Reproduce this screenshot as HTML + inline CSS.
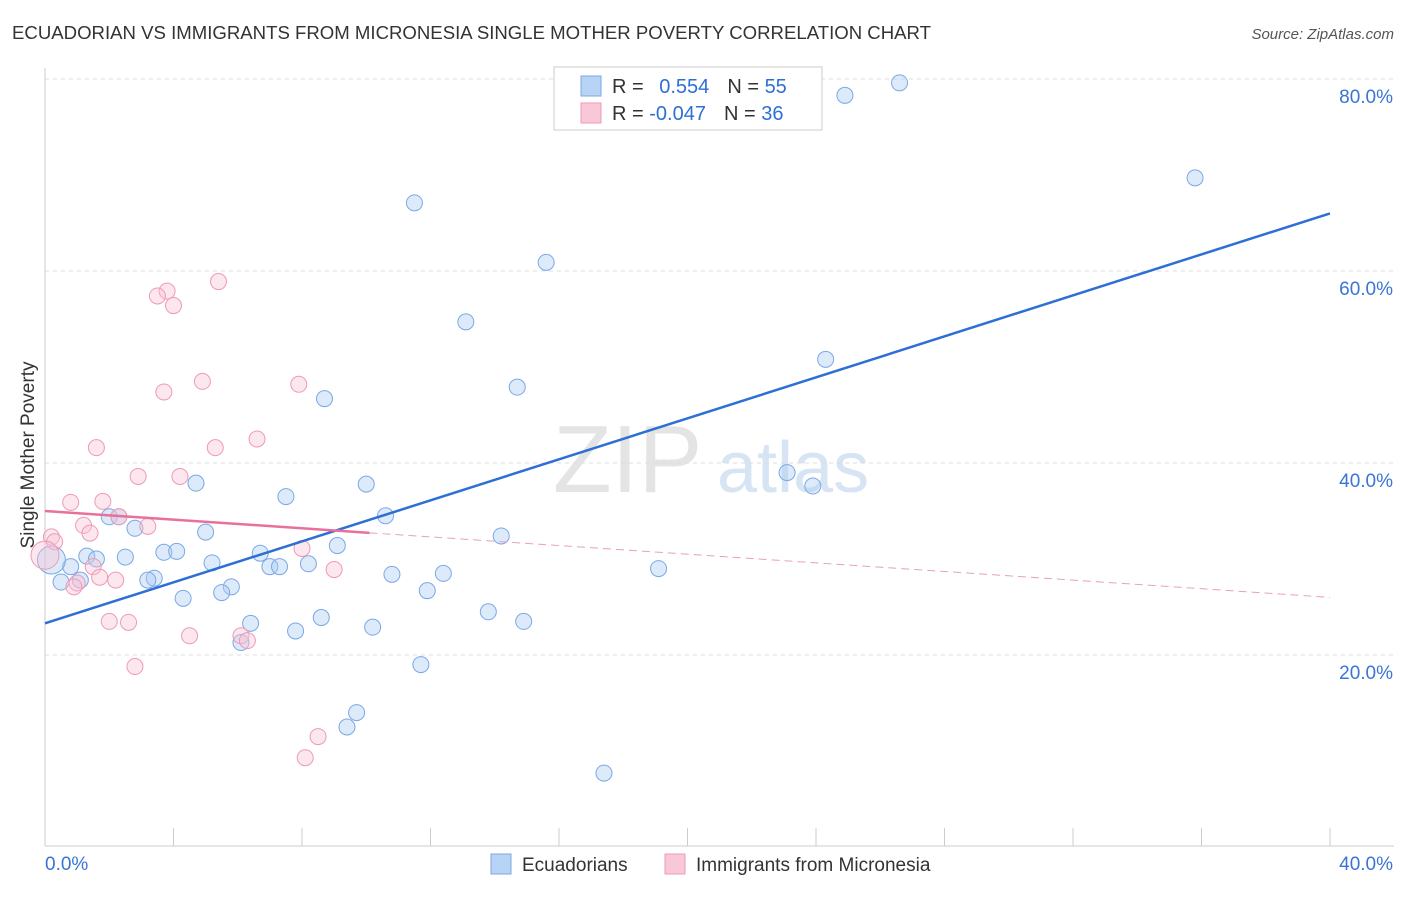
<!DOCTYPE html>
<html><head><meta charset="utf-8"><style>
body{margin:0;background:#fff;font-family:"Liberation Sans",sans-serif;}
svg text{font-family:"Liberation Sans",sans-serif;}
</style></head><body>
<svg id="chart" width="1406" height="892">
<text x="12" y="39" font-size="18" fill="#333" textLength="919" lengthAdjust="spacingAndGlyphs">ECUADORIAN VS IMMIGRANTS FROM MICRONESIA SINGLE MOTHER POVERTY CORRELATION CHART</text>
<text x="1394" y="39" font-size="15" fill="#555" text-anchor="end" font-style="italic">Source: ZipAtlas.com</text>
<text x="34" y="455" font-size="19" fill="#333" text-anchor="middle" transform="rotate(-90 34 455)">Single Mother Poverty</text>
<g><text x="553" y="492" font-size="96" font-family="Liberation Serif" fill="#e4e4e4">ZIP</text><text x="717" y="492" font-size="72" fill="#d6e4f4">atlas</text></g>
<g id="grid"></g><g id="marks"></g>
<g>
<rect x="554" y="67" width="268" height="63" fill="#fff" stroke="#ccc"/>
<rect x="581" y="76" width="20" height="20" fill="#b8d4f5" stroke="#7aa8e6"/>
<rect x="581" y="103" width="20" height="20" fill="#f9c8d8" stroke="#ee9ab5"/>
<text x="612" y="93" font-size="20" fill="#333">R = <tspan fill="#2e6fd6" dx="10">0.554</tspan><tspan dx="18" fill="#333">N = </tspan><tspan fill="#2e6fd6">55</tspan></text>
<text x="612" y="120" font-size="20" fill="#333">R = <tspan fill="#2e6fd6">-0.047</tspan><tspan dx="18" fill="#333">N = </tspan><tspan fill="#2e6fd6">36</tspan></text>
</g>
<g>
<rect x="491" y="854" width="20" height="20" fill="#b8d4f5" stroke="#7aa8e6"/>
<text x="522" y="871" font-size="19" fill="#333">Ecuadorians</text>
<rect x="665" y="854" width="20" height="20" fill="#f9c8d8" stroke="#ee9ab5"/>
<text x="696" y="871" font-size="19" fill="#333">Immigrants from Micronesia</text>
</g>
</svg>
<script>
const yTicks=[20,40,60,80];
const xTickLabels=["0.0%","40.0%"];
const blueX=[26.6,24.9,35.8,11.5,15.6,13.1,24.3,14.7,8.7,4.7,10.0,23.1,23.9,7.5,10.6,2.0,2.3,2.8,5.0,14.2,9.1,3.7,4.1,1.3,2.5,6.7,1.6,5.2,0.8,7.0,7.3,8.2,19.1,10.8,12.4,3.4,3.2,1.1,0.5,5.8,5.5,11.9,4.3,8.6,13.8,14.9,6.4,10.2,7.8,6.1,11.7,9.7,9.4,17.4,0.2];
const blueY=[79.6,78.3,69.7,67.1,60.9,54.7,50.8,47.9,46.7,37.9,37.8,39.0,37.6,36.5,34.5,34.4,34.4,33.2,32.8,32.4,31.4,30.7,30.8,30.3,30.2,30.6,30.0,29.6,29.2,29.2,29.2,29.5,29.0,28.4,28.5,28.0,27.8,27.8,27.6,27.1,26.5,26.7,25.9,23.9,24.5,23.5,23.3,22.9,22.5,21.3,19.0,14.0,12.5,7.7,29.9];
const pinkX=[3.8,3.5,4.0,5.4,4.9,3.7,7.9,1.6,5.3,6.6,2.9,4.2,0.8,1.8,2.3,3.2,1.2,1.4,0.2,0.3,8.0,1.5,9.0,1.7,2.2,1.0,0.9,2.0,2.6,4.5,6.1,6.3,2.8,8.5,8.1,0];
const pinkY=[57.9,57.4,56.4,58.9,48.5,47.4,48.2,41.6,41.6,42.5,38.6,38.6,35.9,36.0,34.4,33.4,33.5,32.7,32.3,31.8,31.1,29.2,28.9,28.1,27.8,27.5,27.1,23.5,23.4,22.0,22.0,21.5,18.8,11.5,9.3,30.4];
const blueTrend=[23.3,66.0];
const pinkTrend=[35.0,26.0];
const X=v=>45+v/40*1285, Y=v=>847-v*9.6;
const ns="http://www.w3.org/2000/svg";
function mk(p,t,a){const e=document.createElementNS(ns,t);for(const k in a)e.setAttribute(k,a[k]);p.appendChild(e);return e;}
const grid=document.getElementById('grid'),marks=document.getElementById('marks');
mk(grid,'line',{x1:45,y1:68,x2:45,y2:846,stroke:'#ccc'});
mk(grid,'line',{x1:45,y1:846,x2:1394,y2:846,stroke:'#ccc'});
for(let i=0;i<=10;i++){const l=mk(grid,'line',{x1:X(i*4),x2:X(i*4),y1:828,y2:846,stroke:'#ccc'});

}
for(const t of yTicks){const l=mk(grid,'line',{x1:45,x2:1394,y1:Y(t),y2:Y(t),stroke:'#ddd','stroke-dasharray':'4 4'});


const tx=mk(grid,'text',{x:1393,y:Y(t)+24,'font-size':19,fill:'#3a74d6','text-anchor':'end'});tx.textContent=t.toFixed(1)+'%';

}
xTickLabels.forEach((s,i)=>{const tx=mk(grid,'text',{x:i?1393:45,y:870,'font-size':19,fill:'#3a74d6','text-anchor':i?'end':'start'});tx.textContent=s;

});
blueX.forEach((x,i)=>{const c=mk(marks,'circle',{cx:X(x),cy:Y(blueY[i]),r:i==blueX.length-1?14:8,fill:'rgba(170,202,242,0.4)',stroke:'#7aa8e6','stroke-width':1});

});
pinkX.forEach((x,i)=>{const c=mk(marks,'circle',{cx:X(x),cy:Y(pinkY[i]),r:i==pinkX.length-1?14:8,fill:'rgba(248,195,213,0.4)',stroke:'#ee9ab5','stroke-width':1});

});
const bl=mk(marks,'line',{x1:X(0),y1:Y(blueTrend[0]),x2:X(40),y2:Y(blueTrend[1]),stroke:'#2e6fd6','stroke-width':2.5});


const pAt=v=>pinkTrend[0]+(pinkTrend[1]-pinkTrend[0])*v/40;
const pl=mk(marks,'line',{x1:X(0),y1:Y(pAt(0)),x2:X(10.1),y2:Y(pAt(10.1)),stroke:'#e8709a','stroke-width':2.5});


const pd=mk(marks,'line',{x1:X(10.1),y1:Y(pAt(10.1)),x2:X(40),y2:Y(pAt(40)),stroke:'#e8a0b8','stroke-width':1,'stroke-dasharray':'8 5'});


</script>
</body></html>
